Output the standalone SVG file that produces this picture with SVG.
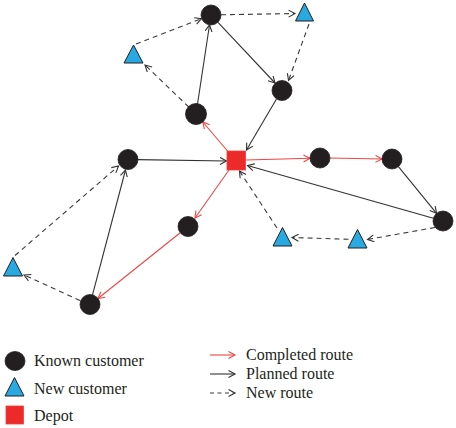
<svg xmlns="http://www.w3.org/2000/svg" width="456" height="428" viewBox="0 0 456 428">
<style>
.k{fill:#231f20;stroke:#231f20;stroke-width:0.8}
.t{fill:#29a9e1;stroke:#231f20;stroke-width:1}
.d{fill:#ed2a2a;stroke:#ee4040;stroke-width:0.8}
.r{stroke:#ef4444;stroke-width:1.1;fill:none;marker-end:url(#ar)}
.p{stroke:#333;stroke-width:1.1;fill:none;marker-end:url(#ab)}
.n{stroke:#3a3a3a;stroke-width:1.1;fill:none;stroke-dasharray:5 4;marker-end:url(#ab)}
.lbl{font-family:"Liberation Serif","Times New Roman",serif;font-size:16px;fill:#231f20}
</style>
<defs>
<marker id="ab" markerUnits="userSpaceOnUse" markerWidth="10" markerHeight="10" refX="7" refY="4" orient="auto" viewBox="0 0 10 10">
<path d="M0.5,0.5 L7,4 L0.5,7.5" fill="none" stroke="#333" stroke-width="1.1"/>
</marker>
<marker id="ar" markerUnits="userSpaceOnUse" markerWidth="10" markerHeight="10" refX="7" refY="4" orient="auto" viewBox="0 0 10 10">
<path d="M0.5,0.5 L7,4 L0.5,7.5" fill="none" stroke="#ef4444" stroke-width="1.1"/>
</marker>
</defs>
<g id="connectors">
<line class="r" x1="228" y1="151.5" x2="202.8" y2="122"/>
<line class="p" x1="197.5" y1="104" x2="209.5" y2="25"/>
<line class="n" x1="221" y1="14.8" x2="295" y2="13.5"/>
<line class="n" x1="309" y1="24" x2="288.5" y2="80.5"/>
<line class="p" x1="218" y1="22.3" x2="275" y2="83"/>
<line class="p" x1="276.5" y1="99" x2="246.5" y2="150"/>
<line class="n" x1="136" y1="44" x2="201.5" y2="18.6"/>
<line class="n" x1="188.8" y1="107" x2="145" y2="65"/>
<line class="p" x1="138" y1="159.6" x2="226.5" y2="161"/>
<line class="r" x1="245.5" y1="160" x2="310" y2="158.3"/>
<line class="r" x1="330" y1="158" x2="382" y2="159"/>
<line class="p" x1="398.4" y1="166.7" x2="436.6" y2="213.3"/>
<line class="p" x1="433.4" y1="218.3" x2="247.5" y2="165.5"/>
<line class="n" x1="435" y1="227.5" x2="367.5" y2="239.5"/>
<line class="n" x1="348.5" y1="239.3" x2="292" y2="237.5"/>
<line class="n" x1="277" y1="228" x2="239.5" y2="171"/>
<line class="r" x1="229" y1="170" x2="195" y2="218"/>
<line class="r" x1="180.2" y1="232.7" x2="98" y2="298.5"/>
<line class="p" x1="92.5" y1="294.8" x2="125.5" y2="170"/>
<line class="n" x1="80" y1="300.5" x2="24" y2="275"/>
<line class="n" x1="15" y1="255.5" x2="118.5" y2="166"/>
</g>
<g id="depot"><rect class="d" x="227" y="151" width="18.5" height="19"/></g>
<g id="nodeA"><circle class="k" cx="211" cy="15" r="10"/></g>
<g id="nodeB"><polygon class="t" points="304.5,3 295.5,21 313.5,21"/></g>
<g id="nodeC"><polygon class="t" points="133.5,45 124,63 143,63"/></g>
<g id="nodeD"><circle class="k" cx="282" cy="90.5" r="10"/></g>
<g id="nodeE"><circle class="k" cx="196" cy="114" r="10.5"/></g>
<g id="nodeF"><circle class="k" cx="128" cy="159.5" r="10"/></g>
<g id="nodeG"><circle class="k" cx="320" cy="158" r="10"/></g>
<g id="nodeH"><circle class="k" cx="392" cy="159" r="10"/></g>
<g id="nodeI"><circle class="k" cx="443" cy="221" r="10"/></g>
<g id="nodeJ"><polygon class="t" points="357.5,229.5 348,248 367,248"/></g>
<g id="nodeK"><polygon class="t" points="282.5,227.5 273,246 292,246"/></g>
<g id="nodeL"><circle class="k" cx="188" cy="226.5" r="10"/></g>
<g id="nodeM"><circle class="k" cx="90" cy="304.5" r="10"/></g>
<g id="nodeN"><polygon class="t" points="13,257.5 3.5,276 22.5,276"/></g>
<g id="legend">
<ellipse class="k" cx="15" cy="361" rx="10" ry="9.5"/>
<text class="lbl" x="34" y="365.5">Known customer</text>
<polygon class="t" points="14.5,377.5 5,396 24,396"/>
<text class="lbl" x="34" y="393.5">New customer</text>
<rect class="d" x="6" y="406" width="17.5" height="18"/>
<text class="lbl" x="34" y="420.5">Depot</text>
<line class="r" x1="210" y1="355" x2="235" y2="355"/>
<text class="lbl" x="246" y="359.5">Completed route</text>
<line class="p" x1="210" y1="374" x2="235" y2="374"/>
<text class="lbl" x="246" y="378.5">Planned route</text>
<line class="n" x1="210" y1="393" x2="235" y2="393" style="stroke-dasharray:4 3.5"/>
<text class="lbl" x="246" y="397.5">New route</text>
</g>
</svg>
